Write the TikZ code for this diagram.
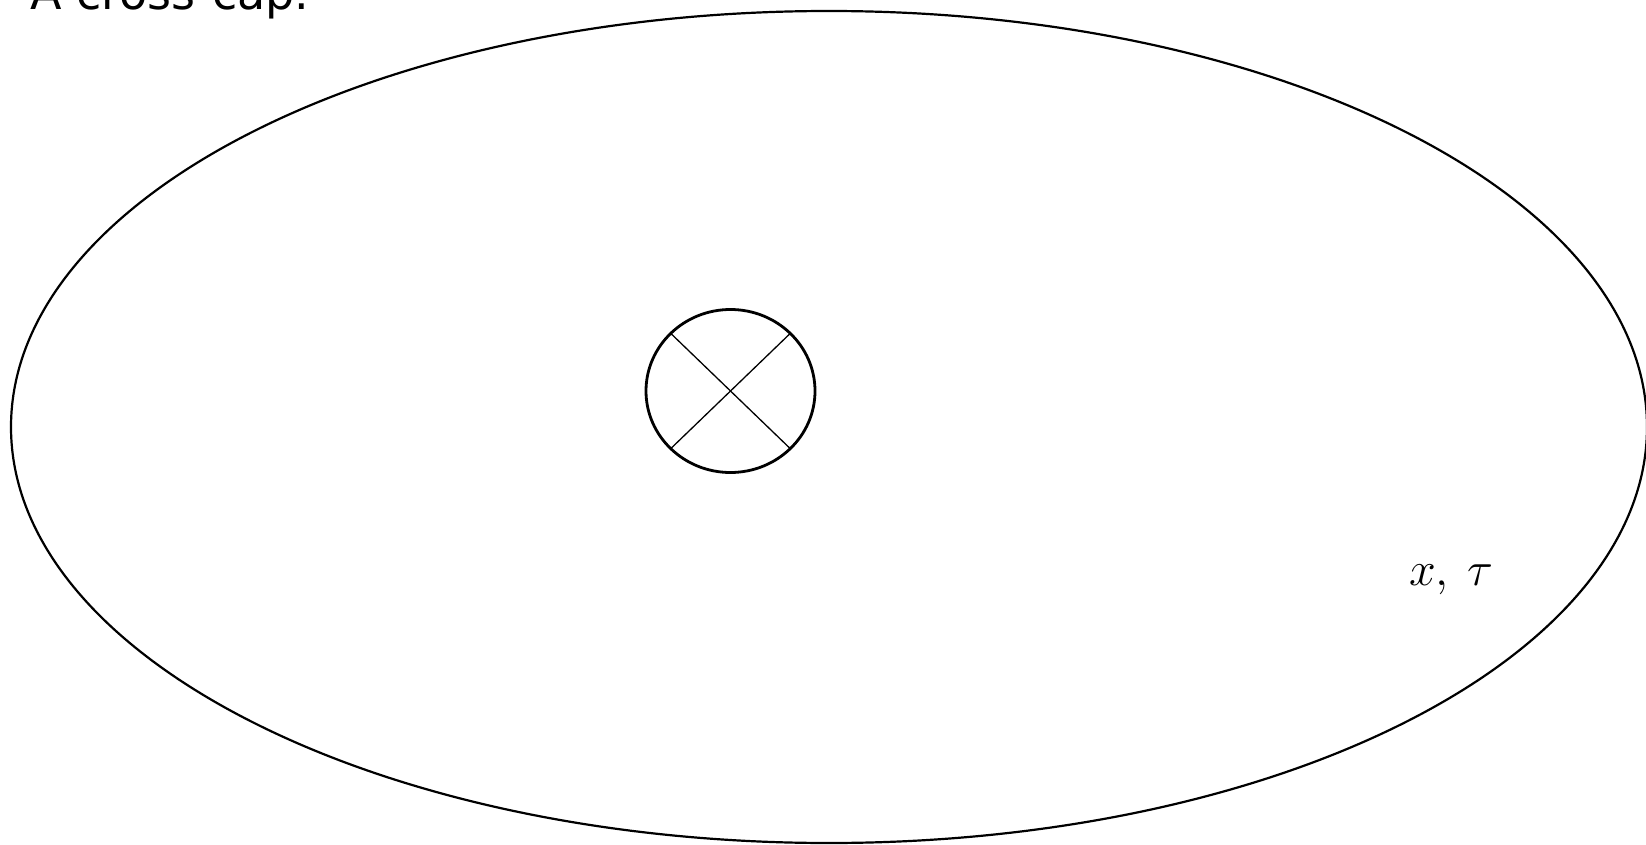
\documentclass[tikz,border=0pt]{standalone}
\usepackage{graphicx}
\usepackage{fontspec}
\setmainfont{DejaVu Sans}
\begin{document}
\begin{tikzpicture}[x=1pt,y=-1pt,
  outer/.style={draw=black,line width=2.2pt},
  hole/.style={draw=black,line width=2.8pt},
  crossline/.style={draw=black,line width=1.3pt}]
\useasboundingbox (0,0) rectangle (1646,845);
\draw[outer] (829,427) ellipse [x radius=818pt, y radius=416pt];
\draw[hole] (730.5,391) ellipse [x radius=84.5pt, y radius=81.5pt];
\coordinate (ne) at (790.25,333.4);
\coordinate (nw) at (670.75,333.4);
\coordinate (se) at (790.25,448.6);
\coordinate (sw) at (670.75,448.6);
\draw[crossline] (ne) -- (sw);
\draw[crossline] (nw) -- (se);
\node[anchor=base west,inner sep=0pt,font=\fontsize{46}{50}\selectfont] (title) at (30,10) {A cross-cap.};
\node[anchor=base west,inner sep=0pt,font=\fontsize{24.88}{28}\selectfont] (label) at (1409,585) {\scalebox{1.93}{$x,\:\tau$}};
\end{tikzpicture}
\end{document}
